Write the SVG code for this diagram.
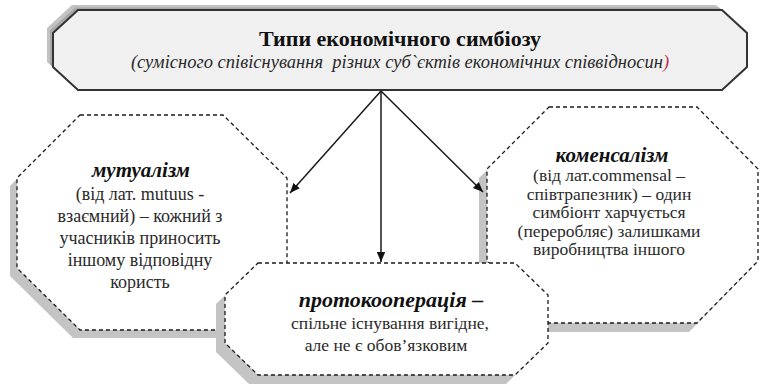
<svg xmlns="http://www.w3.org/2000/svg" width="759" height="387" viewBox="0 0 759 387">
  <defs>
    <marker id="arr" viewBox="0 0 10 10" refX="10" refY="5" markerWidth="10" markerHeight="10" markerUnits="userSpaceOnUse" orient="auto">
      <path d="M0,0.8 L10,5 L0,9.2 z" fill="#111"/>
    </marker>
    <polygon id="octM" points="80,115 223,115 287,178 287,268 223,330 80,330 17,268 17,178"/>
    <polygon id="octC" points="549,107 697,107 758,169 758,261 697,323 549,323 487,261 487,169"/>
    <polygon id="octP" points="258,263 515,263 548,295 548,343 515,375 258,375 225,343 225,295"/>
    <polygon id="octT" points="78,10 722,10 747,33 747,67 722,90 78,90 53,67 53,33"/>
  </defs>

  <g id="top">
    <use href="#octT" transform="translate(-6,-5)" fill="#c2c2c2"/>
    <use href="#octT" transform="translate(-3,-2.5)" fill="#a8a8a8"/>
    <use href="#octT" fill="#f0f0f0" stroke="#333333" stroke-width="2"/>
    <text x="400" y="46" font-family="Liberation Serif" style="font-family: 'Liberation Serif', serif; font-size: 22px; font-weight: bold" fill="#111" text-anchor="middle">Типи економічного симбіозу</text>
    <text x="400" y="68" font-family="Liberation Serif" style="font-family: 'Liberation Serif', serif; font-size: 18.5px; font-style: italic" fill="#2a2a2a" text-anchor="middle" xml:space="preserve">(сумісного співіснування  різних суб`єктів економічних співвідносин<tspan fill="#c0304a">)</tspan></text>
  </g>

  <g id="mutualism">
    <use href="#octM" transform="translate(-7,8)" fill="#c4c4c4"/>
    <use href="#octM" fill="#ffffff" stroke="#1a1a1a" stroke-width="1.3" stroke-dasharray="4 3"/>
    <text x="141" y="177" font-family="Liberation Serif" style="font-family: 'Liberation Serif', serif; font-size: 21px; font-weight: bold; font-style: italic" fill="#111" text-anchor="middle">мутуалізм</text>
    <text x="140" y="200" font-family="Liberation Serif" style="font-family: 'Liberation Serif', serif; font-size: 18px" fill="#2a2a2a" text-anchor="middle">(від лат. mutuus -</text>
    <text x="140" y="222" font-family="Liberation Serif" style="font-family: 'Liberation Serif', serif; font-size: 18px" fill="#2a2a2a" text-anchor="middle">взаємний) – кожний з</text>
    <text x="140" y="244" font-family="Liberation Serif" style="font-family: 'Liberation Serif', serif; font-size: 18px" fill="#2a2a2a" text-anchor="middle">учасників приносить</text>
    <text x="140" y="266" font-family="Liberation Serif" style="font-family: 'Liberation Serif', serif; font-size: 18px" fill="#2a2a2a" text-anchor="middle">іншому відповідну</text>
    <text x="140" y="288" font-family="Liberation Serif" style="font-family: 'Liberation Serif', serif; font-size: 18px" fill="#2a2a2a" text-anchor="middle">користь</text>
  </g>

  <g id="commensalism">
    <use href="#octC" transform="translate(-8,9)" fill="#c4c4c4"/>
    <use href="#octC" fill="#ffffff" stroke="#1a1a1a" stroke-width="1.3" stroke-dasharray="4 3"/>
    <text x="612" y="162" font-family="Liberation Serif" style="font-family: 'Liberation Serif', serif; font-size: 21px; font-weight: bold; font-style: italic" fill="#111" text-anchor="middle">коменсалізм</text>
    <text x="609" y="181" font-family="Liberation Serif" style="font-family: 'Liberation Serif', serif; font-size: 17.5px" fill="#2a2a2a" text-anchor="middle">(від лат.commensal –</text>
    <text x="609" y="199.5" font-family="Liberation Serif" style="font-family: 'Liberation Serif', serif; font-size: 17.5px" fill="#2a2a2a" text-anchor="middle">співтрапезник) – один</text>
    <text x="609" y="218" font-family="Liberation Serif" style="font-family: 'Liberation Serif', serif; font-size: 17.5px" fill="#2a2a2a" text-anchor="middle">симбіонт харчується</text>
    <text x="609" y="236.5" font-family="Liberation Serif" style="font-family: 'Liberation Serif', serif; font-size: 17.5px" fill="#2a2a2a" text-anchor="middle">(переробляє) залишками</text>
    <text x="609" y="255" font-family="Liberation Serif" style="font-family: 'Liberation Serif', serif; font-size: 17.5px" fill="#2a2a2a" text-anchor="middle">виробництва іншого</text>
  </g>

  <g id="protocooperation">
    <use href="#octP" transform="translate(-9,9)" fill="#c4c4c4"/>
    <use href="#octP" fill="#ffffff" stroke="#1a1a1a" stroke-width="1.3" stroke-dasharray="4 3"/>
    <text x="391" y="307" font-family="Liberation Serif" style="font-family: 'Liberation Serif', serif; font-size: 22px; font-weight: bold; font-style: italic" fill="#111" text-anchor="middle">протокооперація –</text>
    <text x="390" y="329" font-family="Liberation Serif" style="font-family: 'Liberation Serif', serif; font-size: 17.5px" fill="#2a2a2a" text-anchor="middle">спільне існування вигідне,</text>
    <text x="386" y="351" font-family="Liberation Serif" style="font-family: 'Liberation Serif', serif; font-size: 17.5px" fill="#2a2a2a" text-anchor="middle">але не є обов’язковим</text>
  </g>

  <g id="connectors" stroke="#1a1a1a" stroke-width="1.5" fill="none" marker-end="url(#arr)">
    <line x1="381" y1="91" x2="290" y2="193"/>
    <line x1="381" y1="91" x2="381" y2="262"/>
    <line x1="381" y1="91" x2="483" y2="192"/>
  </g>
</svg>
